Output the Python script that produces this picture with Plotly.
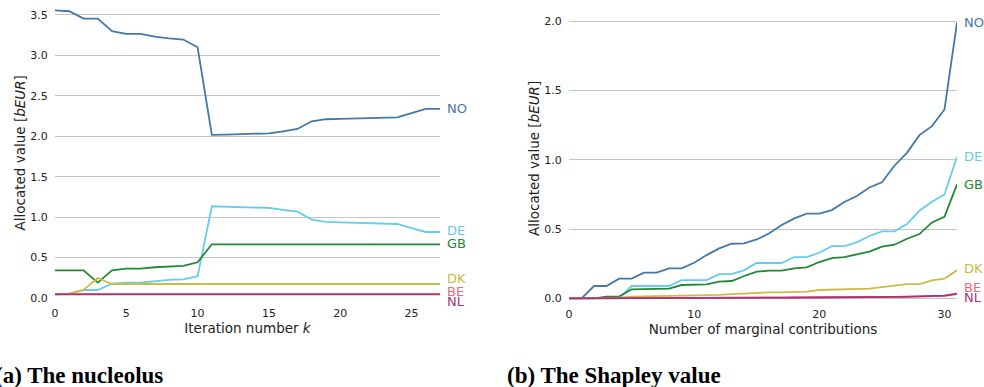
import plotly.graph_objects as go
from plotly.subplots import make_subplots

countries = ["NO", "DE", "GB", "DK", "BE", "NL"]
colors = {"NO": "#4477AA", "DE": "#66CCEE", "GB": "#228833",
          "DK": "#CCBB44", "BE": "#EE6677", "NL": "#AA3377"}

# (a) nucleolus, iterations k = 0..27
k_iter = list(range(28))
nuc_NO = [3.557, 3.545, 3.454, 3.454, 3.30, 3.265, 3.265, 3.23, 3.21, 3.195, 3.10, 2.016,
          2.02, 2.025, 2.03, 2.036, 2.06, 2.09, 2.185, 2.21, 2.215, 2.22, 2.225, 2.23,
          2.234, 2.285, 2.337, 2.337]
nuc_DE = [0.045, 0.05, 0.099, 0.099, 0.177, 0.19, 0.19, 0.21, 0.225, 0.23, 0.27, 1.134,
          1.13, 1.125, 1.12, 1.113, 1.09, 1.068, 0.969, 0.94, 0.935, 0.93, 0.925, 0.92,
          0.915, 0.865, 0.816, 0.816]
nuc_GB = [0.342, 0.342, 0.342, 0.19, 0.342, 0.363, 0.363, 0.38, 0.387, 0.396, 0.441, 0.664,
          0.664, 0.664, 0.664, 0.664, 0.664, 0.664, 0.664, 0.664, 0.664, 0.664, 0.664, 0.664,
          0.664, 0.664, 0.664, 0.664]
nuc_DK = [0.045, 0.055, 0.099, 0.247, 0.173, 0.173, 0.173, 0.173, 0.173, 0.173, 0.173, 0.173,
          0.173, 0.173, 0.173, 0.173, 0.173, 0.173, 0.173, 0.173, 0.173, 0.173, 0.173, 0.173,
          0.173, 0.173, 0.173, 0.173]
nuc_BE = [0.048] * 28
nuc_NL = [0.045] * 28

# (b) Shapley value, marginal contributions 0..31
n_marg = list(range(32))
sh_NO = [0, 0, 0.089, 0.089, 0.142, 0.142, 0.185, 0.185, 0.216, 0.216, 0.257, 0.312,
         0.36, 0.394, 0.397, 0.425, 0.469, 0.529, 0.577, 0.611, 0.611, 0.637, 0.695, 0.738,
         0.80, 0.837, 0.957, 1.05, 1.178, 1.243, 1.363, 1.99]
sh_DE = [0, 0, 0, 0, 0, 0.089, 0.089, 0.089, 0.089, 0.132, 0.132, 0.132,
         0.175, 0.175, 0.204, 0.255, 0.255, 0.255, 0.298, 0.298, 0.329, 0.377, 0.377, 0.404,
         0.45, 0.483, 0.483, 0.536, 0.632, 0.697, 0.75, 1.022]
sh_GB = [0, 0, 0, 0.012, 0.012, 0.065, 0.065, 0.07, 0.07, 0.096, 0.10, 0.10,
         0.12, 0.125, 0.161, 0.192, 0.20, 0.20, 0.216, 0.224, 0.262, 0.29, 0.298, 0.32,
         0.337, 0.373, 0.387, 0.43, 0.464, 0.548, 0.589, 0.822]
sh_DK = [0, 0, 0, 0.004, 0.004, 0.012, 0.012, 0.016, 0.018, 0.019, 0.024, 0.024,
         0.025, 0.03, 0.036, 0.038, 0.043, 0.043, 0.043, 0.048, 0.06, 0.062, 0.065, 0.07,
         0.07, 0.08, 0.091, 0.103, 0.103, 0.13, 0.142, 0.202]
sh_BE = [0, 0, 0, 0, 0, 0.001, 0.001, 0.001, 0.002, 0.002, 0.002, 0.003,
         0.003, 0.003, 0.004, 0.004, 0.004, 0.005, 0.005, 0.005, 0.006, 0.006, 0.007, 0.007,
         0.008, 0.009, 0.01, 0.011, 0.012, 0.014, 0.017, 0.03]
sh_NL = [0, 0, 0, 0, 0, 0.001, 0.001, 0.002, 0.002, 0.002, 0.003, 0.003,
         0.003, 0.004, 0.004, 0.005, 0.005, 0.005, 0.006, 0.006, 0.007, 0.007, 0.008, 0.008,
         0.009, 0.01, 0.011, 0.012, 0.014, 0.016, 0.019, 0.034]

# end-label vertical nudges (pixels) to avoid overlapping labels
nuc_label_shift = {"NO": 0, "DE": 1, "GB": 1, "DK": 6, "BE": 3, "NL": -7}
sh_label_shift = {"NO": 0, "DE": 0, "GB": 0, "DK": 2, "BE": 7, "NL": -4}

nuc = {"NO": nuc_NO, "DE": nuc_DE, "GB": nuc_GB, "DK": nuc_DK, "BE": nuc_BE, "NL": nuc_NL}
sh = {"NO": sh_NO, "DE": sh_DE, "GB": sh_GB, "DK": sh_DK, "BE": sh_BE, "NL": sh_NL}

fig = make_subplots(rows=1, cols=2)
W, H = 984, 387
FONT = "DejaVu Sans"

draw_order = ["NO", "DE", "GB", "DK", "BE", "NL"]
for c in draw_order:
    fig.add_trace(go.Scatter(x=k_iter, y=nuc[c], mode="lines", name=c,
                             line=dict(color=colors[c], width=1.8), showlegend=False),
                  row=1, col=1)
    fig.add_trace(go.Scatter(x=n_marg, y=sh[c], mode="lines", name=c,
                             line=dict(color=colors[c], width=1.8), showlegend=False),
                  row=1, col=2)

annotations = []
for c in countries:
    annotations.append(dict(x=k_iter[-1], y=nuc[c][-1], xref="x", yref="y", text=c,
                            showarrow=False, xanchor="left", yanchor="middle",
                            xshift=5, yshift=nuc_label_shift[c],
                            font=dict(family=FONT, size=13, color=colors[c])))
    annotations.append(dict(x=n_marg[-1], y=sh[c][-1], xref="x2", yref="y2", text=c,
                            showarrow=False, xanchor="left", yanchor="middle",
                            xshift=5, yshift=sh_label_shift[c],
                            font=dict(family=FONT, size=13, color=colors[c])))

annotations.append(dict(x=-7.5 / W, y=(H - 375) / H, xref="paper", yref="paper",
                        text="<b>(a) The nucleolus</b>", showarrow=False,
                        xanchor="left", yanchor="middle",
                        font=dict(family="Liberation Serif", size=23, color="black")))
annotations.append(dict(x=505 / W, y=(H - 375) / H, xref="paper", yref="paper",
                        text="<b>(b) The Shapley value</b>", showarrow=False,
                        xanchor="left", yanchor="middle",
                        font=dict(family="Liberation Serif", size=23, color="black")))

axis_common = dict(showline=False, zeroline=False, ticks="outside", ticklen=4,
                   tickcolor="rgba(0,0,0,0)", automargin=False,
                   tickfont=dict(family=FONT, size=11, color="#222"))

fig.update_xaxes(**axis_common, showgrid=False)
fig.update_yaxes(**axis_common, showgrid=True, gridcolor="#c4c4c4", gridwidth=1.2)

fig.update_xaxes(row=1, col=1, range=[0, 27], domain=[55 / W, 440 / W],
                 tickvals=[0, 5, 10, 15, 20, 25],
                 title=dict(text="Iteration number <i>k</i>", standoff=0,
                            font=dict(family=FONT, size=13.5, color="#222")))
fig.update_xaxes(row=1, col=2, range=[0, 31], domain=[569 / W, 957 / W],
                 tickvals=[0, 10, 20, 30],
                 title=dict(text="Number of marginal contributions", standoff=0,
                            font=dict(family=FONT, size=13.5, color="#222")))
fig.update_yaxes(row=1, col=1, range=[-0.01, 3.6],
                 domain=[(H - 298.8) / H, (H - 6.8) / H],
                 tickvals=[0, 0.5, 1.0, 1.5, 2.0, 2.5, 3.0, 3.5], tickformat=".1f",
                 title=dict(text="Allocated value [<i>bEUR</i>]", standoff=1,
                            font=dict(family=FONT, size=13.5, color="#222")))
fig.update_yaxes(row=1, col=2, range=[-0.01, 2.03],
                 domain=[(H - 299.7) / H, (H - 17.1) / H],
                 tickvals=[0, 0.5, 1.0, 1.5, 2.0], tickformat=".1f",
                 title=dict(text="Allocated value [<i>bEUR</i>]", standoff=1,
                            font=dict(family=FONT, size=13.5, color="#222")))

fig.update_layout(width=W, height=H, margin=dict(l=0, r=0, t=0, b=0),
                  paper_bgcolor="white", plot_bgcolor="white",
                  annotations=annotations, font=dict(family=FONT))

fig.write_html("out.html", config={"displayModeBar": False},
               post_script="document.body.style.margin='0';"
                           "document.body.style.overflow='hidden';")
